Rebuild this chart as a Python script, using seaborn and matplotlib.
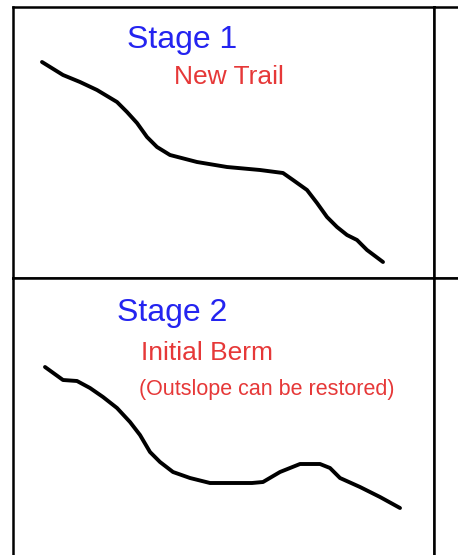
import matplotlib
matplotlib.use("Agg")
import matplotlib.pyplot as plt
import seaborn as sns
import pandas as pd

sns.set_style("white")
plt.rcParams['font.family'] = ['Liberation Sans', 'DejaVu Sans']

# trail profile, stage 1 (pixel coords)
s1_x = [42, 63, 80, 97, 117, 127, 137, 147, 157, 170, 197, 227, 260, 283, 293, 307, 317, 327, 337, 347, 357, 367, 383]
s1_y = [62, 75, 82, 90, 102, 112, 123, 137, 147, 155, 162, 167, 170, 173, 180, 190, 203, 217, 227, 235, 240, 250, 262]

# trail profile, stage 2
s2_x = [45, 63, 77, 90, 103, 117, 130, 140, 150, 160, 173, 190, 210, 252, 263, 280, 300, 320, 330, 340, 360, 380, 400]
s2_y = [367, 380, 381, 388, 397, 408, 422, 435, 452, 462, 472, 478, 483, 483, 482, 472, 464, 464, 468, 478, 487, 497, 508]

labels = ["Stage 1", "New Trail", "Stage 2", "Initial Berm", "(Outslope can be restored)"]

W, H = 458, 555
fig = plt.figure(figsize=(W / 100, H / 100), dpi=100)

def panel(x0, y0, x1, y1):
    ax = fig.add_axes([x0 / W, 1 - y1 / H, (x1 - x0) / W, (y1 - y0) / H])
    ax.set_xlim(x0, x1)
    ax.set_ylim(y1, y0)
    ax.set_xticks([])
    ax.set_yticks([])
    for sp in ax.spines.values():
        sp.set_color("black")
        sp.set_linewidth(1.8)
    return ax

top = panel(13, 7, 434, 278)
bot = panel(13, 278, 434, 700)
panel(434, 7, 900, 278)
panel(434, 278, 900, 700)

sns.lineplot(data=pd.DataFrame({"x": s1_x, "y": s1_y}), x="x", y="y", ax=top,
             color="black", lw=2.8, sort=False)
sns.lineplot(data=pd.DataFrame({"x": s2_x, "y": s2_y}), x="x", y="y", ax=bot,
             color="black", lw=2.8, sort=False)
for ax in (top, bot):
    ax.set_xlabel("")
    ax.set_ylabel("")

blue = "#2424f0"
red = "#e63838"
top.text(182, 40, labels[0], color=blue, fontsize=23, ha="center", va="center")
top.text(229, 77, labels[1], color=red, fontsize=19, ha="center", va="center")
bot.text(172, 313, labels[2], color=blue, fontsize=23, ha="center", va="center")
bot.text(207, 353, labels[3], color=red, fontsize=19, ha="center", va="center")
bot.text(267, 390, labels[4], color=red, fontsize=15.5, ha="center", va="center")

fig.savefig("out.png", dpi=100)
